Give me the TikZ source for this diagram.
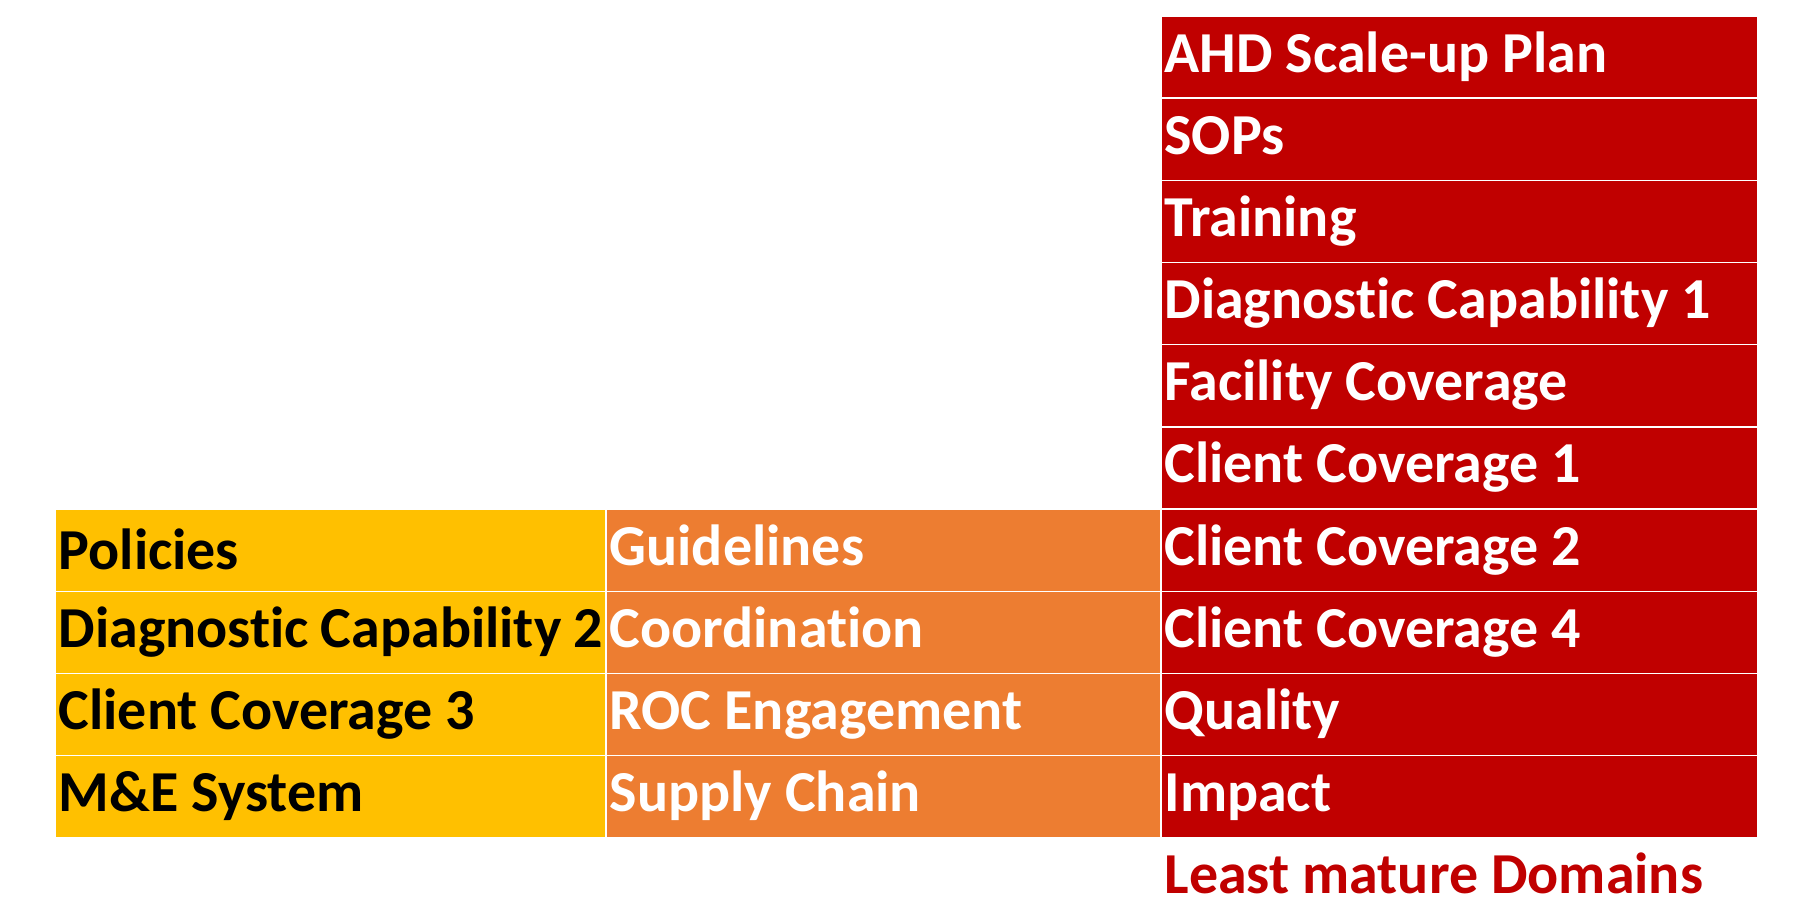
\documentclass[tikz,border=0pt]{standalone}
\usepackage{fontspec}
\setmainfont{Carlito}[RawFeature=-liga]
\usetikzlibrary{positioning}

\definecolor{domred}{HTML}{C00000}
\definecolor{domorange}{HTML}{ED7D31}
\definecolor{domyellow}{HTML}{FFC000}

\begin{document}
\begin{tikzpicture}[
    x=0.02cm, y=-0.02cm,
    node distance=0pt,
    every node/.style={font=\fontsize{33}{40}\selectfont\bfseries},
    cell/.style={
        rectangle,
        draw=white,
        line width=0.8pt,
        outer sep=0pt,
        inner xsep=2pt,
        inner ysep=0pt,
        minimum height=1.644cm,
        text height=24pt,
        text depth=7pt,
        align=flush left
    },
    least/.style={cell, fill=domred, text=white, text width=11.8cm},
    middle/.style={cell, fill=domorange, text=white, text width=10.96cm},
    mature/.style={cell, fill=domyellow, text=black, text width=10.88cm}
]
\useasboundingbox (0,0) rectangle (1793,917);

% ==================== LEAST MATURE ====================
\node[least, anchor=north west] (plan) at (1161,16) {AHD Scale-up Plan};
\node[least, below=of plan] (sops) {SOPs};
\node[least, below=of sops] (training) {Training};
\node[least, below=of training] (diag1) {Diagnostic Capability 1};
\node[least, below=of diag1] (facility) {Facility Coverage};
\node[least, below=of facility] (client1) {Client Coverage 1};
\node[least, below=of client1] (client2) {Client Coverage 2};
\node[least, below=of client2] (client4) {Client Coverage 4};
\node[least, below=of client4] (quality) {Quality};
\node[least, below=of quality] (impact) {Impact};

% ==================== MIDDLE ====================
\node[middle, left=of client2] (guidelines) {Guidelines};
\node[middle, below=of guidelines] (coordination) {Coordination};
\node[middle, below=of coordination] (roc) {ROC Engagement};
\node[middle, below=of roc] (supply) {Supply Chain};

% ==================== MOST MATURE ====================
\node[mature, left=of guidelines, text depth=2.5pt] (policies) {Policies};
\node[mature, left=of coordination] (diag2) {Diagnostic~Capability~2};
\node[mature, left=of roc] (client3) {Client Coverage 3};
\node[mature, left=of supply] (mande) {M\&E System};

% ==================== LABEL ====================
\node[cell, draw=none, text=domred, text width=11.8cm, below=of impact] (leastlabel) {Least mature Domains};

\end{tikzpicture}
\end{document}
